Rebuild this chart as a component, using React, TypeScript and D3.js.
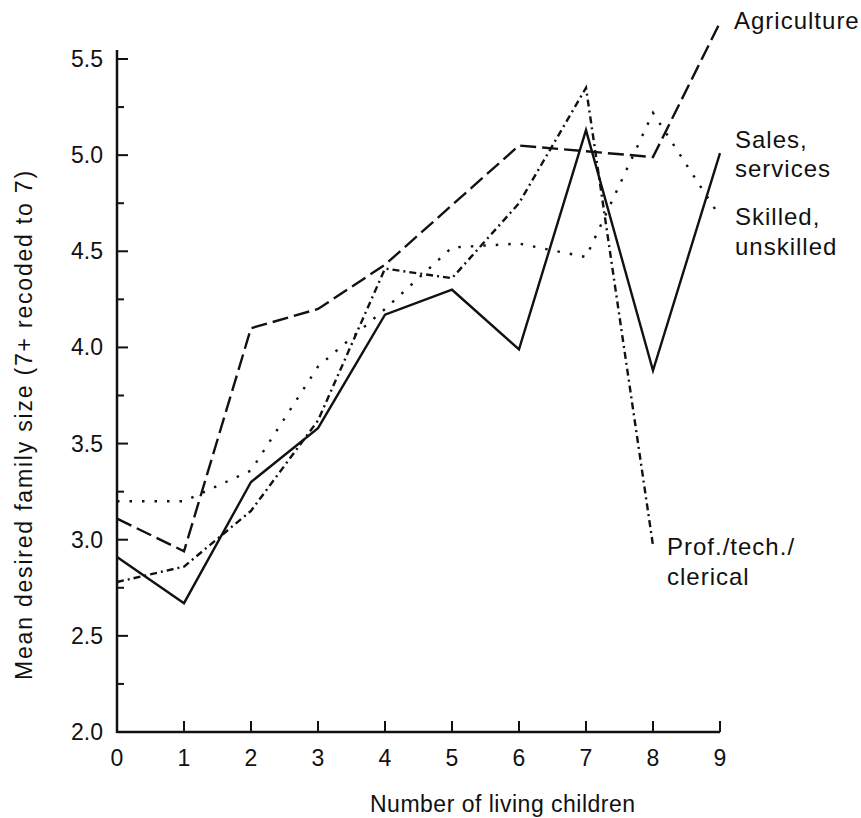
import React from "react";
import * as d3 from "d3";

// number of living children (x)
const children = [0, 1, 2, 3, 4, 5, 6, 7, 8, 9];

// mean desired family size by occupation group
const agriculture = [3.11, 2.94, 4.1, 4.2, 4.43, 4.74, 5.05, 5.02, 4.99, 5.69];
const salesServices = [2.91, 2.67, 3.3, 3.58, 4.17, 4.3, 3.99, 5.13, 3.88, 5.01];
const skilledUnskilled = [3.2, 3.2, 3.36, 3.9, 4.2, 4.52, 4.54, 4.47, 5.22, 4.68];
const profTechClerical = [2.78, 2.86, 3.15, 3.62, 4.41, 4.36, 4.75, 5.35, 2.97];

const yMajorTicks = [2.0, 2.5, 3.0, 3.5, 4.0, 4.5, 5.0, 5.5];
const yMinorTicks = [2.25, 2.75, 3.25, 3.75, 4.25, 4.75, 5.25];

const W = 861, H = 818;
const FONT = "'Liberation Sans', Arial, Helvetica, sans-serif";

const x = d3.scaleLinear().domain([0, 9]).range([117, 720]);
const y = d3.scaleLinear().domain([2, 5.5]).range([732, 59]);

const line = d3
  .line<number>()
  .x((_, i) => x(children[i]))
  .y(d => y(d));

const series = [
  { name: "agriculture", values: agriculture, dash: "16,6" },
  { name: "sales", values: salesServices, dash: null },
  { name: "skilled", values: skilledUnskilled, dash: "2.5,10" },
  { name: "prof", values: profTechClerical, dash: "7,4,2,4" },
];

export default function App() {
  const x0 = x(0);
  const y0 = y(2);
  return (
    <svg
      width={W}
      height={H}
      style={{ position: "absolute", left: 0, top: 0, background: "#fff" }}
      fontFamily={FONT}
    >
      {/* axes */}
      <line x1={x0} x2={x0} y1={50} y2={y0 + 1} stroke="#111" strokeWidth={2.5} />
      <line x1={x0} x2={x(9)} y1={y0} y2={y0} stroke="#111" strokeWidth={2.5} />

      {yMajorTicks.slice(1).map(t => (
        <line key={"M" + t} x1={x0} x2={x0 + 11} y1={y(t)} y2={y(t)} stroke="#111" strokeWidth={2} />
      ))}
      {yMinorTicks.map(t => (
        <line key={"m" + t} x1={x0} x2={x0 + 7} y1={y(t)} y2={y(t)} stroke="#111" strokeWidth={2} />
      ))}
      {yMajorTicks.map(t => (
        <text key={"l" + t} x={103} y={y(t)} dy="0.35em" textAnchor="end" fontSize={23} fill="#111">
          {t.toFixed(1)}
        </text>
      ))}

      {children.slice(1).map(c => (
        <line key={"x" + c} x1={x(c)} x2={x(c)} y1={y0} y2={y0 - 11} stroke="#111" strokeWidth={2} />
      ))}
      {children.map(c => (
        <text key={"xl" + c} x={x(c)} y={766} textAnchor="middle" fontSize={23} fill="#111">
          {c}
        </text>
      ))}

      <text x={370} y={812} fontSize={23} fill="#111" letterSpacing={0.5}>
        Number of living children
      </text>
      <text
        transform={`translate(32,${680}) rotate(-90)`}
        fontSize={23}
        fill="#111"
        letterSpacing={1.8}
      >
        Mean desired family size (7+ recoded to 7)
      </text>

      {/* data lines */}
      {series.map(s => (
        <path
          key={s.name}
          d={line(s.values) || ""}
          fill="none"
          stroke="#111"
          strokeWidth={2.4}
          strokeDasharray={s.dash || undefined}
          strokeLinejoin="miter"
        />
      ))}

      {/* series labels */}
      <g fontSize={24} fill="#111" letterSpacing={1}>
        <text x={734} y={29}>Agriculture</text>
        <text x={735} y={148}>Sales,</text>
        <text x={735} y={177}>services</text>
        <text x={735} y={225}>Skilled,</text>
        <text x={735} y={255}>unskilled</text>
        <text x={667} y={555}>Prof./tech./</text>
        <text x={667} y={585}>clerical</text>
      </g>
    </svg>
  );
}
